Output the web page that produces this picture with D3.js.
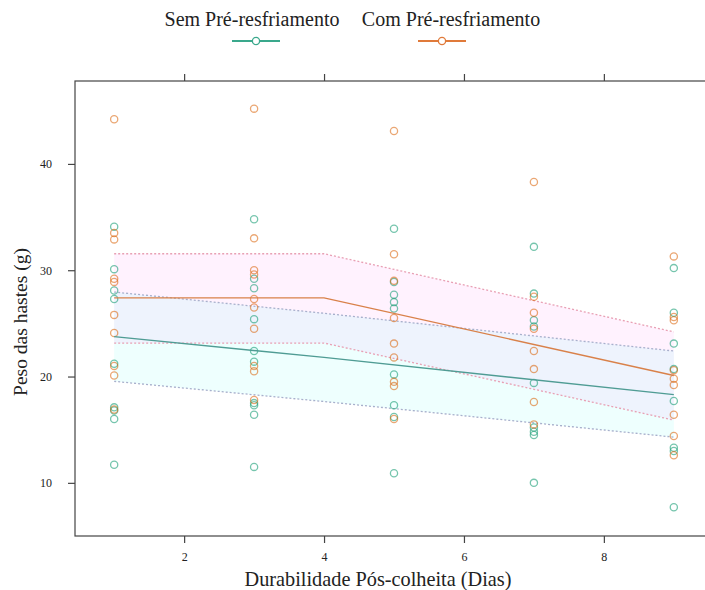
<!DOCTYPE html>
<html>
<head>
<meta charset="utf-8">
<script src="https://cdn.jsdelivr.net/npm/d3@7"></script>
<style>
  body { margin: 0; background: #fff; }
  text { font-family: "Liberation Serif", "DejaVu Serif", serif; fill: #222; }
</style>
</head>
<body>
<svg id="chart" width="705" height="590"></svg>
<script>
var groups = ['Sem Pré-resfriamento', 'Com Pré-resfriamento'];
var days = [1, 3, 5, 7, 9];

// observed points, one list per day
var semValues = [
  [34.1, 30.1, 28.1, 27.3, 21.2, 17.1, 16.8, 16.0, 11.7],
  [34.8, 29.2, 28.3, 25.4, 22.4, 21.4, 17.5, 17.3, 16.4, 11.5],
  [33.9, 28.9, 27.7, 27.0, 26.4, 20.2, 17.3, 16.2, 10.9],
  [32.2, 27.8, 25.3, 24.7, 19.4, 15.2, 14.8, 14.5, 10.0],
  [30.2, 26.0, 23.1, 20.7, 17.7, 13.3, 13.0, 7.7]
];
var comValues = [
  [44.2, 33.5, 32.9, 29.2, 28.9, 25.8, 24.1, 21.0, 20.1, 16.9],
  [45.2, 33.0, 30.0, 29.6, 27.3, 26.5, 24.5, 21.0, 20.5, 17.8],
  [43.1, 31.5, 29.0, 25.5, 23.1, 21.8, 19.5, 19.1, 16.0],
  [38.3, 27.5, 26.0, 24.5, 22.4, 20.7, 17.6, 15.5],
  [31.3, 25.6, 25.3, 20.6, 19.8, 19.2, 16.4, 14.4, 12.6]
];

// fitted curves and bands
var fitX = [1, 4, 9];
var semFit = [23.75, 21.8, 18.3];
var semLower = [19.55, 17.65, 14.3];
var semUpper = [27.95, 25.95, 22.4];
var comFit = [27.4, 27.4, 20.1];
var comLower = [23.15, 23.15, 15.9];
var comUpper = [31.55, 31.55, 24.2];

var xTicks = [2, 4, 6, 8];
var yTicks = [10, 20, 30, 40];

var semColor = '#1b9e77';
var comColor = '#d95f02';

var svg = d3.select('#chart');
var pLeft = 75, pTop = 81, pRight = 713, pBottom = 536;

var x = d3.scaleLinear().domain([0.44, 9.56]).range([pLeft, pRight]);
var y = d3.scaleLinear().domain([5.0, 47.8]).range([pBottom, pTop]);

var plot = svg.append('g');

function bandArea(lo, hi) {
  return d3.area()
    .x(function(d, i) { return x(fitX[i]); })
    .y0(function(d, i) { return y(lo[i]); })
    .y1(function(d, i) { return y(hi[i]); })(fitX);
}
function curve(vals) {
  return d3.line()
    .x(function(d, i) { return x(fitX[i]); })
    .y(function(d, i) { return y(vals[i]); })(fitX);
}

plot.append('path').attr('d', bandArea(comLower, comUpper))
  .attr('fill', '#ff55f0').attr('fill-opacity', 0.08);
plot.append('path').attr('d', bandArea(semLower, semUpper))
  .attr('fill', '#40fff0').attr('fill-opacity', 0.09);

[[comLower, '#e8a0b4'], [comUpper, '#e8a0b4'], [semLower, '#a8b0cc'], [semUpper, '#a8b0cc']].forEach(function(b) {
  plot.append('path').attr('d', curve(b[0]))
    .attr('fill', 'none').attr('stroke', b[1]).attr('stroke-width', 1.3)
    .attr('stroke-dasharray', '2,2');
});

function drawPoints(values, color, op) {
  values.forEach(function(list, i) {
    plot.selectAll(null).data(list).enter().append('circle')
      .attr('cx', x(days[i]))
      .attr('cy', function(d) { return y(d); })
      .attr('r', 3.6)
      .attr('fill', 'none')
      .attr('stroke', color)
      .attr('stroke-opacity', op)
      .attr('stroke-width', 1.3);
  });
}
drawPoints(semValues, semColor, 0.6);
drawPoints(comValues, comColor, 0.55);

plot.append('path').attr('d', curve(semFit))
  .attr('fill', 'none').attr('stroke', '#4f9c94').attr('stroke-width', 1.4);
plot.append('path').attr('d', curve(comFit))
  .attr('fill', 'none').attr('stroke', '#d9814a').attr('stroke-width', 1.4);

// frame and ticks
svg.append('rect').attr('x', pLeft).attr('y', pTop)
  .attr('width', pRight - pLeft).attr('height', pBottom - pTop)
  .attr('fill', 'none').attr('stroke', '#444').attr('stroke-width', 1.2);

var axB = svg.append('g').attr('transform', 'translate(0,' + pBottom + ')')
  .call(d3.axisBottom(x).tickValues(xTicks).tickSize(7).tickPadding(9).tickFormat(d3.format('d')));
var axT = svg.append('g').attr('transform', 'translate(0,' + pTop + ')')
  .call(d3.axisTop(x).tickValues(xTicks).tickSize(7).tickFormat(''));
var axL = svg.append('g').attr('transform', 'translate(' + pLeft + ',0)')
  .call(d3.axisLeft(y).tickValues(yTicks).tickSize(7).tickPadding(16).tickFormat(d3.format('d')));
[axB, axT, axL].forEach(function(a) {
  a.select('.domain').remove();
  a.selectAll('line').attr('stroke', '#444').attr('stroke-width', 1.2);
  a.selectAll('text').attr('font-size', 12).attr('font-family', '"Liberation Serif", serif').attr('fill', '#333');
});

svg.append('text').attr('x', 378).attr('y', 586).attr('text-anchor', 'middle')
  .attr('font-size', 20.3).text('Durabilidade Pós-colheita (Dias)');
svg.append('text').attr('transform', 'translate(27,322) rotate(-90)').attr('text-anchor', 'middle')
  .attr('font-size', 19.5).text('Peso das hastes (g)');

// legend
var legTextX = [252, 451];
var legLineX = [256, 442];
var legColors = ['#3aa88c', '#e07a3a'];
groups.forEach(function(g, i) {
  svg.append('text').attr('x', legTextX[i]).attr('y', 26).attr('text-anchor', 'middle')
    .attr('font-size', 20).text(g);
  svg.append('line').attr('x1', legLineX[i] - 24).attr('x2', legLineX[i] + 24)
    .attr('y1', 41).attr('y2', 41).attr('stroke', legColors[i]).attr('stroke-width', 2);
  svg.append('circle').attr('cx', legLineX[i]).attr('cy', 41).attr('r', 3.6)
    .attr('fill', '#fff').attr('stroke', legColors[i]).attr('stroke-width', 1.3);
});
</script>
</body>
</html>
